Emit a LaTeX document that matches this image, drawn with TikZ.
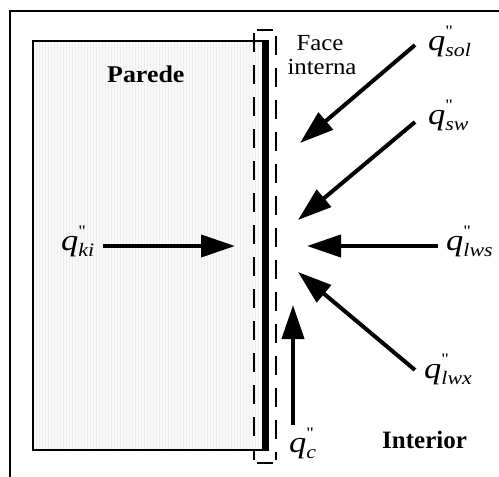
\documentclass[tikz,border=0pt]{standalone}
\usepackage{fontspec}
\setmainfont{Liberation Serif}
\newfontfamily\rawfont[Ligatures=ResetAll]{Liberation Serif}
\usetikzlibrary{arrows.meta}
\newcommand{\flux}[1]{\scalebox{1.15}[1]{{\fontsize{30}{30}\selectfont\itshape q}\rlap{\raisebox{14pt}{\fontsize{16}{16}\selectfont\rawfont "}}\raisebox{-6pt}{\fontsize{19}{19}\selectfont\itshape #1}}}
\tikzset{
  frame/.style={line width=2.5pt},
  wall/.style={line width=2pt, fill=gray!5},
  face/.style={line width=6pt},
  facebox/.style={line width=2pt},
  facedash/.style={line width=2pt, dash pattern=on 19pt off 13pt},
  flow/.style={line width=4pt, -{Triangle[length=34pt,width=22pt]}},
  lab/.style={anchor=base west, inner sep=0pt},
  title/.style={anchor=base west, inner sep=0pt, font=\fontsize{24}{24}\selectfont\bfseries}
}
\begin{document}
\begin{tikzpicture}[x=1pt,y=-1pt]
\useasboundingbox (0,0) rectangle (499,477);
% outer frame
\draw[frame] (10,477) -- (10,11) -- (499,11);
% wall
\draw[wall] (33,41) rectangle (268,450);
\foreach \i in {36,39,...,258} \draw[gray!14, line width=0.5pt] (\i,42) -- (\i,449);
\draw[line width=2pt] (33,41) -- (265,41);
\draw[face] (265,41) -- (265,451);
% internal face box
\draw[facebox] (257,30) -- (273,30);
\draw[facebox] (257,463) -- (273,463);
\draw[facedash] (254,33) -- (254,460);
\draw[facedash] (276,36) -- (276,460);
% text
\node[title] (parede) at (107,82) {\scalebox{1.08}[1]{Parede}};
\node[title, font=\fontsize{25}{25}\selectfont\bfseries] (interior) at (382,448) {Interior};
\node[anchor=base, inner sep=0pt, font=\fontsize{23}{23}\selectfont] (face) at (320,50) {\scalebox{1.08}[1]{Face}};
\node[anchor=base, inner sep=0pt, font=\fontsize{23}{23}\selectfont] (interna) at (322,74) {\scalebox{1.08}[1]{interna}};
% labels
\node[lab] (qsol) at (428,50) {\flux{sol}};
\node[lab] (qsw) at (428,124) {\flux{sw}};
\node[lab] (qki) at (61,250) {\flux{ki}};
\node[lab] (qlws) at (446,250) {\flux{lws}};
\node[lab] (qlwx) at (424,378) {\flux{lwx}};
\node[lab] (qc) at (289,452) {\flux{c}};
% arrow coordinates
\coordinate (sol0) at (415,45);  \coordinate (sol1) at (300,143);
\coordinate (sw0) at (415,122);  \coordinate (sw1) at (298,220);
\coordinate (ki0) at (103,246);  \coordinate (ki1) at (235,246);
\coordinate (lws0) at (438,246); \coordinate (lws1) at (307,246);
\coordinate (lwx0) at (415,370); \coordinate (lwx1) at (298,272);
\coordinate (c0) at (293,425);   \coordinate (c1) at (293,305);
\draw[flow] (sol0) -- (sol1);
\draw[flow] (sw0) -- (sw1);
\draw[flow] (ki0) -- (ki1);
\draw[flow] (lws0) -- (lws1);
\draw[flow] (lwx0) -- (lwx1);
\draw[flow] (c0) -- (c1);
\end{tikzpicture}
\end{document}
